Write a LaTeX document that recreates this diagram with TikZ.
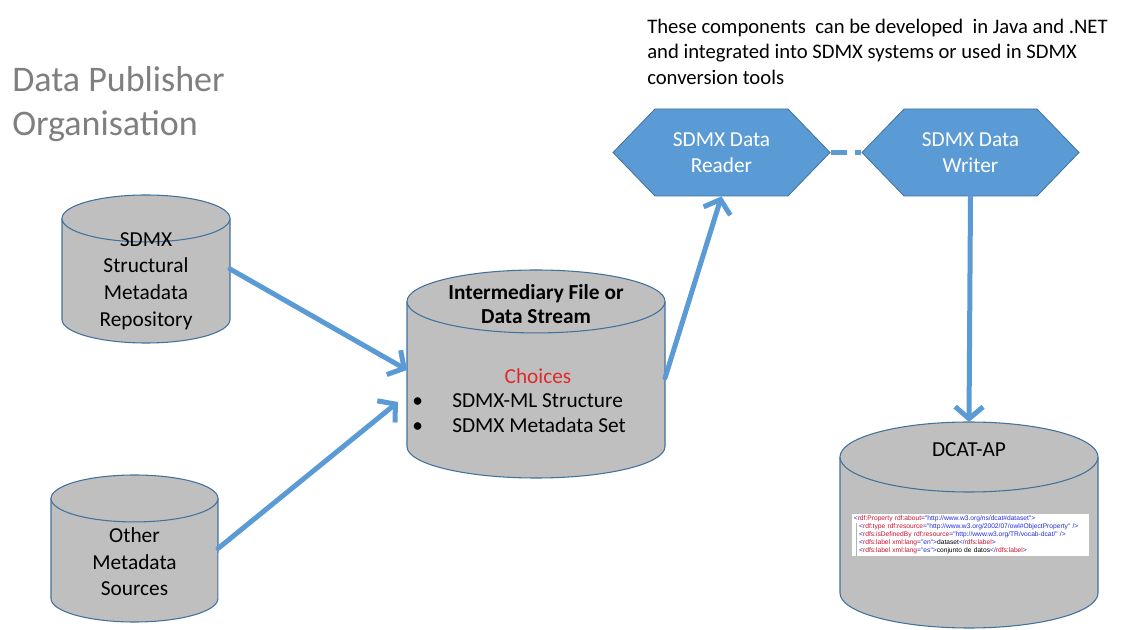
\documentclass[tikz,border=0pt]{standalone}
\usepackage{fontspec}
\setmainfont{Carlito}
\newfontfamily\xmlfont{Liberation Sans}
\usetikzlibrary{arrows.meta,shapes.symbols}
\definecolor{flowblue}{HTML}{5B9BD5}
\definecolor{edgeblue}{HTML}{41719C}
\definecolor{dbgray}{HTML}{BFBFBF}
\definecolor{titlegray}{HTML}{7F7F7F}
\definecolor{choicered}{HTML}{E02A2A}
\definecolor{tagblue}{HTML}{1F2BE0}
\definecolor{tagred}{HTML}{C8102E}
\newcommand\xmlb[1]{\textcolor{tagblue}{#1}}
\newcommand\xmlr[1]{\textcolor{tagred}{#1}}
% cylinder drawn inside a named node: name, x radius, y radius
\newcommand\drawstore[3]{%
    \filldraw[dbline] ([yshift=-#3]#1.north west) -- ([yshift=#3]#1.south west)
        arc[start angle=180,end angle=360,x radius=#2,y radius=#3]
        -- ([yshift=-#3]#1.north east)
        arc[start angle=0,end angle=180,x radius=#2,y radius=#3] -- cycle;
    \draw[dbline] ([yshift=-#3]#1.north west) arc[start angle=180,end angle=360,x radius=#2,y radius=#3];}

\begin{document}
\begin{tikzpicture}[x=0.75pt,y=-0.75pt,
    arrow/.style = {line width=3.75pt,flowblue,line cap=round,-{Straight Barb[length=9pt,width=21pt,line width=3.75pt]}},
    store/.style = {inner sep=0pt,outer sep=0pt},
    dbline/.style = {draw=edgeblue,fill=dbgray,line width=0.8pt},
    dbtext/.style = {align=center,font=\fontsize{16}{20}\selectfont},
    hexbox/.style = {signal,signal to=west and east,signal pointer angle=92,fill=flowblue,draw=edgeblue,line width=0.6pt,inner sep=0pt,minimum width=162.75pt,minimum height=65.25pt,align=center,text=white,font=\fontsize{16}{19}\selectfont}]
    \useasboundingbox (0,0) rectangle (1135,630);

    % headings
    \node[anchor=north west,align=left,text=titlegray,inner sep=0pt,font=\fontsize{27}{33}\selectfont] (title) at (12,66) {Data Publisher\\Organisation};
    \node[anchor=north west,align=left,inner sep=0pt,font=\fontsize{15.5}{19}\selectfont] (note) at (647,19)
        {These components\ \ can be developed\ \ in Java and .NET\\and integrated into SDMX systems or used in SDMX\\conversion tools};

    % stores
    \node[store,minimum width=126pt,minimum height=111pt] (repo) at (146,269) {};
    \node[store,minimum width=125.25pt,minimum height=110.25pt] (other) at (134.5,548.5) {};
    \node[store,minimum width=193.5pt,minimum height=156pt] (inter) at (536,374) {};
    \node[store,minimum width=193.5pt,minimum height=154.5pt] (dcat) at (969,525) {};
    \drawstore{repo}{63pt}{17.6pt}
    \drawstore{other}{62.6pt}{17.6pt}
    \drawstore{inter}{96.75pt}{23.6pt}
    \drawstore{dcat}{96.75pt}{26.25pt}

    \node[dbtext] (repotext) at (146,281) {SDMX\\Structural\\Metadata\\Repository};
    \node[dbtext] (othertext) at (134.5,562) {Other\\Metadata\\Sources};
    \node[font=\bfseries\fontsize{16}{18}\selectfont,align=center] (intertitle) at (536,304) {Intermediary File or\\Data Stream};
    \node[text=choicered,font=\fontsize{16}{19}\selectfont] (choices) at (538,376) {Choices};
    \node[anchor=west,inner sep=0pt,font=\fontsize{16}{18.75}\selectfont] (options) at (412,415)
        {\begin{tabular}{@{}p{30pt}@{}l@{}}\textbullet & SDMX-ML Structure\\ \textbullet & SDMX Metadata Set\end{tabular}};

    \node[font=\fontsize{16}{19}\selectfont] (dcatlabel) at (969,450) {DCAT-AP};
    \node[anchor=north west,fill=white,text width=175pt,align=left,inner xsep=1.2pt,inner ysep=1.2pt,font=\xmlfont\fontsize{5}{6}\selectfont] (xml) at (852,514)
        {\xmlb{<}\xmlr{rdf:Property} \xmlr{rdf:about}\xmlb{="http://www.w3.org/ns/dcat\#dataset">}\\
         \hspace*{4pt}\xmlb{<}\xmlr{rdf:type} \xmlr{rdf:resource}\xmlb{="http://www.w3.org/2002/07/owl\#ObjectProperty" />}\\
         \hspace*{4pt}\xmlb{<}\xmlr{rdfs:isDefinedBy} \xmlr{rdf:resource}\xmlb{="http://www.w3.org/TR/vocab-dcat/" />}\\
         \hspace*{4pt}\xmlb{<}\xmlr{rdfs:label} \xmlr{xml:lang}\xmlb{="en">}dataset\xmlb{</}\xmlr{rdfs:label}\xmlb{>}\\
         \hspace*{4pt}\xmlb{<}\xmlr{rdfs:label} \xmlr{xml:lang}\xmlb{="es">}conjunto de datos\xmlb{</}\xmlr{rdfs:label}\xmlb{>}};
    \draw[gray!60,line width=0.4pt] ([xshift=3.5pt,yshift=-7pt]xml.north west) -- ([xshift=3.5pt]xml.south west);

    % components
    \node[hexbox] (reader) at (721.5,152.5) {SDMX Data\\Reader};
    \node[hexbox] (writer) at (970.5,152.5) {SDMX Data\\Writer};

    % flows
    \draw[arrow] (repo.east) -- ([yshift=3pt]inter.west);
    \draw[arrow] (other.east) -- ([xshift=-6.75pt,yshift=-21pt]inter.west);
    \draw[arrow] ([yshift=-3pt]inter.east) -- (reader.south);
    \draw[arrow] (writer.south) -- (dcat.north);
    \draw[line width=3.75pt,flowblue,dash pattern=on 12pt off 6pt] (reader.east) -- (writer.west);
\end{tikzpicture}
\end{document}
